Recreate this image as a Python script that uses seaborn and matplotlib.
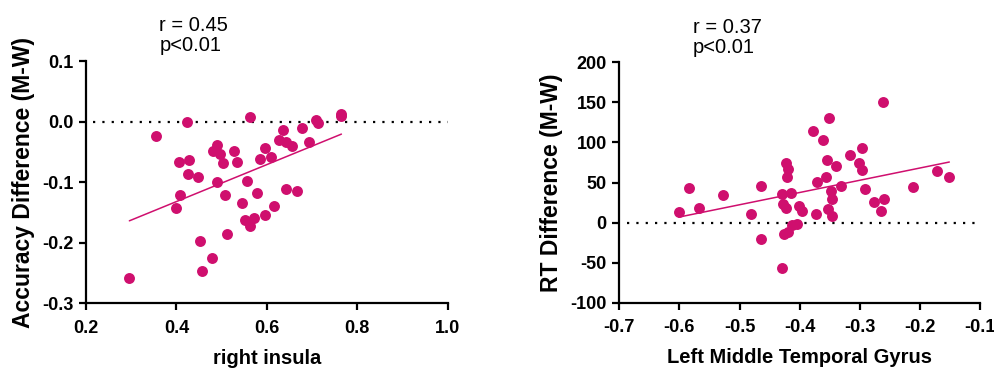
import numpy as np
import pandas as pd
import matplotlib
matplotlib.use("Agg")
import matplotlib.pyplot as plt
import seaborn as sns

# ---- data ----
insula_x = [0.296, 0.355, 0.424, 0.399, 0.406, 0.427, 0.408, 0.426, 0.448, 0.452,
            0.457, 0.479, 0.482, 0.490, 0.496, 0.502, 0.489, 0.507, 0.512, 0.528,
            0.535, 0.545, 0.557, 0.552, 0.563, 0.572, 0.562, 0.578, 0.586, 0.597,
            0.609, 0.595, 0.617, 0.628, 0.636, 0.642, 0.655, 0.642, 0.667, 0.677,
            0.694, 0.709, 0.714, 0.763, 0.765]
acc_diff = [-0.258, -0.024, 0.000, -0.142, -0.067, -0.064, -0.122, -0.086, -0.092, -0.197,
            -0.246, -0.226, -0.048, -0.038, -0.053, -0.068, -0.100, -0.122, -0.185, -0.049,
            -0.066, -0.135, -0.098, -0.163, -0.173, -0.159, 0.008, -0.118, -0.062, -0.043,
            -0.059, -0.155, -0.139, -0.030, -0.014, -0.034, -0.041, -0.111, -0.114, -0.011,
            -0.034, 0.002, -0.002, 0.009, 0.013]

mtg_x = [-0.601, -0.584, -0.567, -0.528, -0.481, -0.465, -0.465, -0.430, -0.429, -0.427,
         -0.423, -0.422, -0.420, -0.421, -0.426, -0.420, -0.414, -0.412, -0.405, -0.401,
         -0.396, -0.378, -0.372, -0.371, -0.361, -0.355, -0.356, -0.351, -0.353, -0.347,
         -0.346, -0.346, -0.340, -0.332, -0.316, -0.302, -0.296, -0.297, -0.292, -0.276,
         -0.265, -0.262, -0.259, -0.212, -0.171, -0.151]
rt_diff = [13.3, 43.3, 17.9, 34.2, 10.4, 45.4, -20.8, -57.1, 35.4, 23.8,
           18.8, 74.2, 67.1, 56.7, -13.8, -12.1, 36.7, -2.5, -2.1, 20.8,
           15.0, 113.8, 10.8, 50.4, 103.3, 77.9, 56.7, 130.4, 17.1, 40.0,
           29.2, 7.9, 70.8, 45.4, 83.8, 74.2, 92.5, 65.8, 42.5, 25.8,
           14.2, 150.4, 30.0, 43.8, 64.2, 57.1]

left_xticks = [0.2, 0.4, 0.6, 0.8, 1.0]
left_yticks = [-0.3, -0.2, -0.1, 0.0, 0.1]
right_xticks = [-0.7, -0.6, -0.5, -0.4, -0.3, -0.2, -0.1]
right_yticks = [-100, -50, 0, 50, 100, 150, 200]
left_labels = ("right insula", "Accuracy Difference (M-W)")
right_labels = ("Left Middle Temporal Gyrus", "RT Difference (M-W)")
left_stats = "r = 0.45\np<0.01"
right_stats = "r = 0.37\np<0.01"

COLOR = "#CF0F6E"

sns.set_theme(style="ticks")
plt.rcParams["font.family"] = ["Liberation Sans", "DejaVu Sans"]
plt.rcParams["axes.unicode_minus"] = False
plt.rcParams["text.color"] = "black"
plt.rcParams["axes.labelcolor"] = "black"
plt.rcParams["xtick.color"] = "black"
plt.rcParams["ytick.color"] = "black"

fig = plt.figure(figsize=(9.95, 3.68), dpi=100)
ax1 = fig.add_axes([0.0864, 0.1758, 0.3635, 0.6584])
ax2 = fig.add_axes([0.6224, 0.1774, 0.3625, 0.6533])

df1 = pd.DataFrame({"x": insula_x, "y": acc_diff})
df2 = pd.DataFrame({"x": mtg_x, "y": rt_diff})


def panel(ax, df, xticks, yticks, labels, stats, xfmt, yfmt):
    ax.axhline(0, xmin=0.02, xmax=1.0, color="black", linestyle=(0, (1, 3.2)),
               linewidth=1.6, zorder=1)
    sns.regplot(data=df, x="x", y="y", ax=ax, ci=None, color=COLOR,
                scatter_kws=dict(s=62, linewidths=0, alpha=1, zorder=3),
                line_kws=dict(linewidth=1.1, zorder=2))
    ax.set_xlim(xticks[0], xticks[-1])
    ax.set_ylim(yticks[0], yticks[-1])
    ax.set_xticks(xticks)
    ax.set_yticks(yticks)
    ax.set_xticklabels([xfmt(v) for v in xticks], fontweight="bold", fontsize=13)
    ax.set_yticklabels([yfmt(v) for v in yticks], fontweight="bold", fontsize=13)
    ax.set_xlabel(labels[0], fontweight="bold", fontsize=14.5, labelpad=8.5, color="black")
    ax.set_ylabel(labels[1], fontweight="bold", fontsize=16.5, labelpad=5, color="black")
    for s in ["top", "right"]:
        ax.spines[s].set_visible(False)
    for s in ["left", "bottom"]:
        ax.spines[s].set_linewidth(1.6)
        ax.spines[s].set_color("black")
    ax.tick_params(axis="both", which="major", direction="out", length=5,
                   width=1.6, color="black", labelcolor="black", pad=4)
    ax.tick_params(axis="x", pad=7)
    ax.set_facecolor("white")
    ax.text(0.203, 1.185, stats, transform=ax.transAxes, fontsize=14.5,
            ha="left", va="top", linespacing=1.05, color="black")


panel(ax1, df1, left_xticks, left_yticks, left_labels, left_stats,
      lambda v: f"{v:.1f}", lambda v: f"{v:.1f}")
panel(ax2, df2, right_xticks, right_yticks, right_labels, right_stats,
      lambda v: f"{v:.1f}", lambda v: f"{v:d}")

fig.savefig("out.png", dpi=100, facecolor="white")
